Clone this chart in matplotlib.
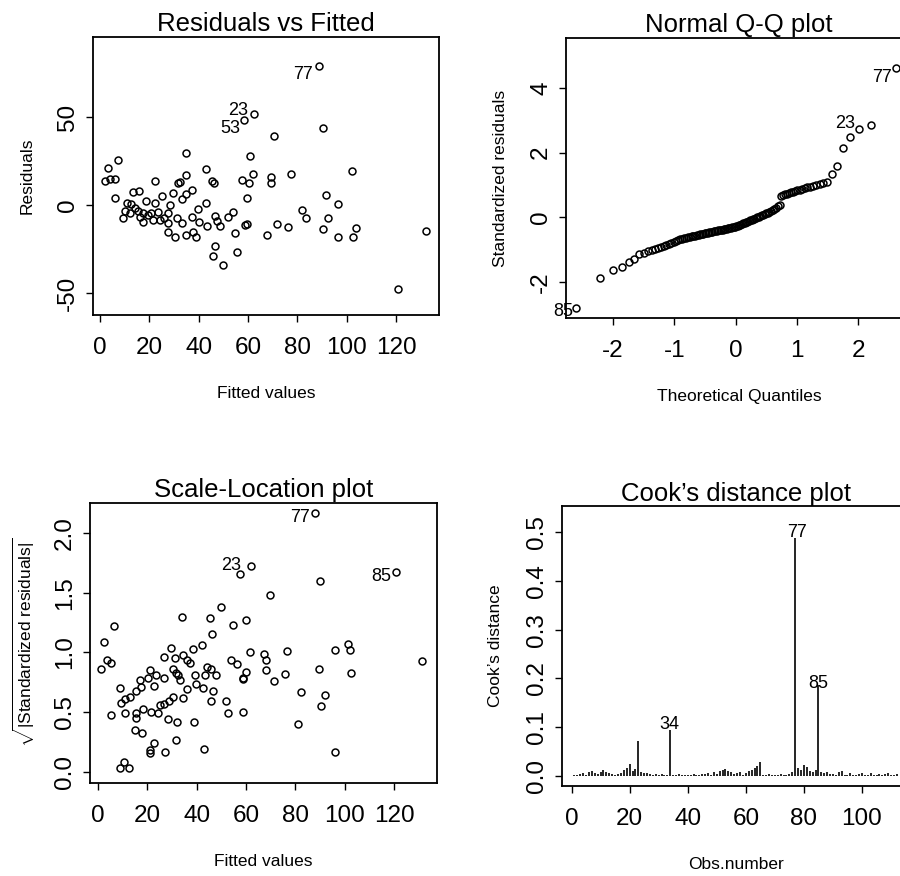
import statistics
import numpy as np
import matplotlib.pyplot as plt

plt.rcParams['font.family'] = ['Liberation Sans', 'DejaVu Sans']
plt.rcParams['mathtext.fontset'] = 'custom'
plt.rcParams['mathtext.rm'] = 'Liberation Sans'
plt.rcParams['mathtext.it'] = 'Liberation Sans:italic'
plt.rcParams['axes.unicode_minus'] = False

# Residuals vs Fitted (labelled points first: 77, 23, 53)
rf_fitted = [88.9, 62.6, 58.5,
             90.5, 70.4, 34.9, 60.8, 7.4, 3.4, 43.0, 102.2, 62.2, 77.3, 35.1, 57.4, 60.5, 69.2, 69.2,
             4.1, 6.1, 2.2, 22.3, 31.8, 32.6, 45.3, 46.2, 6.1, 13.5, 15.8, 18.6, 25.3, 29.7, 37.2,
             34.9, 33.1, 43.2, 59.5, 91.5, 96.6, 81.8, 83.5, 92.6, 90.5, 103.8, 102.4, 96.6, 76.4,
             71.8, 67.8, 59.5, 59.0, 54.7, 53.8, 52.0, 55.4, 50.0, 46.6, 45.9, 48.6, 47.3, 46.6,
             43.6, 40.3, 39.9, 38.9, 37.8, 37.2, 35.1, 33.1, 31.1, 30.4, 27.7, 27.7, 27.7, 28.4,
             24.3, 23.6, 22.3, 21.6, 20.9, 17.6, 17.3, 15.5, 14.2, 12.8, 10.8, 10.1, 9.5, 12.2,
             16.2, 19.6, 26.1, 132.2, 120.9]
rf_resid = [78.9, 51.7, 48.1,
            43.8, 39.4, 29.8, 27.9, 25.8, 21.3, 20.2, 19.4, 17.9, 17.5, 17.0, 14.2, 12.6, 15.7, 12.3,
            14.7, 14.7, 13.6, 13.6, 12.6, 13.0, 13.6, 12.6, 4.2, 7.5, 7.9, 2.3, 5.1, 7.0, 8.5,
            6.0, 3.2, 0.9, 4.2, 5.7, 0.4, -2.8, -7.5, -7.5, -13.8, -12.8, -18.3, -18.3, -12.3,
            -10.8, -17.2, -10.9, -11.3, -15.7, -3.8, -6.6, -26.8, -34.0, -23.2, -29.2, -11.7, -8.9, -6.2,
            -11.9, -9.4, -2.5, -18.3, -15.1, -7.0, -17.0, -10.4, -7.5, -18.3, -15.1, -10.4, -4.7, 0.0,
            -8.5, -3.8, 0.9, -8.5, -4.7, -9.4, -4.7, -3.2, -1.9, 0.6, 0.9, -3.4, -7.5, -4.7,
            -7.0, -5.7, -7.5, -14.5, -47.5]
rf_labels = ["77", "23", "53"]

# Normal Q-Q: sorted standardized residuals (labels: 85 lowest, 23, 77 highest)
qq_resid = [-2.82, -1.89, -1.63, -1.53, -1.40, -1.28, -1.14,
            -1.10, -1.06, -1.02, -0.99, -0.96, -0.92, -0.89, -0.86, -0.83, -0.80, -0.76, -0.73,
            -0.70, -0.68, -0.66, -0.64, -0.63, -0.62, -0.61, -0.59, -0.58, -0.57, -0.56, -0.55,
            -0.53, -0.52, -0.51, -0.50,
            -0.49, -0.48, -0.47, -0.46, -0.45, -0.44, -0.43, -0.42, -0.41, -0.40, -0.39, -0.38,
            -0.37, -0.36, -0.35, -0.34, -0.33, -0.32, -0.31, -0.30, -0.29, -0.28,
            -0.26, -0.24, -0.23, -0.21, -0.19, -0.18, -0.16, -0.14, -0.12, -0.10, -0.08, -0.06,
            -0.04, -0.02, 0.00, 0.02, 0.04, 0.06, 0.08, 0.10, 0.12, 0.14,
            0.17, 0.20, 0.23, 0.27, 0.30, 0.34, 0.38,
            0.66,
            0.69, 0.71, 0.73, 0.75, 0.77, 0.79, 0.81, 0.83, 0.85, 0.88, 0.90, 0.93, 0.95, 0.98,
            1.01, 1.04, 1.07, 1.10,
            1.35, 1.60, 2.15, 2.48, 2.73, 2.86,
            4.62]
qq_label_idx = [111, 110, 0]
qq_labels = ["77", "23", "85"]

# Scale-Location (labelled points first: 77, 23, 85)
sl_fitted = [87.8, 61.9, 120.7,
             57.4, 89.9, 69.9, 49.7, 34.2, 45.3, 60.1, 54.7, 6.5, 46.4, 2.4, 29.7, 101.4, 102.0,
             95.9, 38.5, 42.3, 76.6, 61.5, 67.3, 34.5, 26.8, 31.1, 68.2, 54.1, 36.1, 131.5, 3.6,
             5.4, 37.2, 56.4, 1.4, 89.6, 44.3, 30.4, 68.2, 60.1, 20.9, 31.8, 102.6, 45.7, 32.4,
             43.2, 39.2, 47.9, 75.7, 23.6, 20.3, 26.8, 58.6, 58.9, 16.9, 33.1, 71.2, 39.6, 22.7,
             17.6, 42.6, 9.1, 46.6, 36.2, 15.2, 82.4, 91.9, 12.8, 30.4, 34.5, 10.8, 45.7, 51.8,
             9.5, 26.8, 28.8, 25.0, 90.5, 18.2, 21.6, 15.5, 24.3, 52.8, 58.8, 10.8, 5.1, 15.5,
             28.4, 32.2, 38.9, 81.1, 14.9, 18.0, 31.8, 22.7, 95.9, 42.8, 27.3, 20.9, 21.2, 10.4,
             9.1, 12.6]
sl_sqrt_std = [2.17, 1.72, 1.67,
               1.66, 1.60, 1.48, 1.38, 1.30, 1.29, 1.27, 1.23, 1.22, 1.15, 1.09, 1.04, 1.07, 1.02,
               1.02, 1.03, 1.06, 1.01, 1.00, 0.99, 0.98, 0.96, 0.95, 0.94, 0.94, 0.94, 0.93, 0.94,
               0.91, 0.91, 0.90, 0.86, 0.86, 0.88, 0.86, 0.85, 0.84, 0.85, 0.83, 0.83, 0.86, 0.81,
               0.81, 0.81, 0.81, 0.82, 0.81, 0.79, 0.79, 0.79, 0.78, 0.77, 0.77, 0.76, 0.74, 0.72,
               0.71, 0.70, 0.70, 0.68, 0.69, 0.68, 0.67, 0.64, 0.63, 0.63, 0.62, 0.61, 0.59, 0.59,
               0.58, 0.57, 0.59, 0.56, 0.55, 0.53, 0.50, 0.49, 0.49, 0.49, 0.50, 0.49, 0.48, 0.45,
               0.44, 0.42, 0.42, 0.40, 0.35, 0.33, 0.27, 0.24, 0.17, 0.19, 0.17, 0.18, 0.16, 0.08,
               0.03, 0.03]
sl_labels = ["77", "23", "85"]

# Cook's distance, observations 1..112
cooks_d = [0.002, 0.003, 0.004, 0.006, 0.003, 0.008, 0.010, 0.007, 0.005, 0.009,
           0.012, 0.008, 0.006, 0.004, 0.003, 0.005, 0.007, 0.012, 0.016, 0.024,
           0.010, 0.014, 0.072, 0.009, 0.006, 0.007, 0.004, 0.003, 0.005, 0.002,
           0.004, 0.003, 0.002, 0.094, 0.003, 0.002, 0.004, 0.003, 0.002, 0.003,
           0.002, 0.004, 0.003, 0.002, 0.005, 0.004, 0.006, 0.003, 0.008, 0.005,
           0.010, 0.013, 0.015, 0.011, 0.009, 0.004, 0.006, 0.008, 0.003, 0.007,
           0.010, 0.012, 0.017, 0.021, 0.029, 0.003, 0.002, 0.004, 0.002, 0.003,
           0.002, 0.004, 0.003, 0.002, 0.005, 0.008, 0.488, 0.016, 0.013, 0.023,
           0.019, 0.010, 0.008, 0.012, 0.187, 0.009, 0.006, 0.008, 0.005, 0.004,
           0.003, 0.009, 0.011, 0.003, 0.002, 0.006, 0.003, 0.002, 0.005, 0.007,
           0.002, 0.003, 0.006, 0.002, 0.003, 0.005, 0.002, 0.004, 0.006, 0.003,
           0.002, 0.004]
cooks_labels = {77: "77", 85: "85", 34: "34"}

TITLE = 18.5
TICK = 17.5
LAB = 12.5
ANN = 13

fig = plt.figure(figsize=(9, 8.76), dpi=100)
ax_rf = fig.add_axes([0.1033, 0.6404, 0.3844, 0.3174])
ax_qq = fig.add_axes([0.6289, 0.6370, 0.3844, 0.3196])
ax_sl = fig.add_axes([0.1000, 0.1062, 0.3856, 0.3196])
ax_ck = fig.add_axes([0.6244, 0.1027, 0.3863, 0.3196])


def r_style(ax, title, xlab, ylab):
    for s in ax.spines.values():
        s.set_linewidth(1.3)
    ax.tick_params(axis='both', direction='out', length=5, width=1.0, labelsize=TICK)
    ax.tick_params(axis='x', pad=11)
    ax.tick_params(axis='y', pad=5)
    for t in ax.get_yticklabels():
        t.set_rotation(90)
        t.set_va('center')
    ax.set_title(title, fontsize=TITLE, pad=4)
    ax.set_xlabel(xlab, fontsize=LAB)
    ax.set_ylabel(ylab, fontsize=LAB)
    ax.xaxis.set_label_coords(0.5, -0.282)
    ax.xaxis.label.set_va('center')
    ax.yaxis.set_label_coords(-0.19, 0.5)
    ax.yaxis.label.set_va('center')


pt = dict(marker='o', ls='none', ms=5, mfc='none', mec='black', mew=1.1)

# Residuals vs Fitted
ax_rf.plot(rf_fitted, rf_resid, **pt)
rf_off = [(-4.3, -6), (-4.3, 2.7), (-3.1, -6)]
for i, lab in enumerate(rf_labels):
    ax_rf.annotate(lab, (rf_fitted[i], rf_resid[i]), xytext=rf_off[i], textcoords='offset points',
                   ha='right', va='center', fontsize=ANN)
ax_rf.set_xlim(-2.8, 137.4)
ax_rf.set_ylim(-62.5, 95.5)
ax_rf.set_xticks([0, 20, 40, 60, 80, 100, 120])
ax_rf.set_yticks([-50, 0, 50])
r_style(ax_rf, 'Residuals vs Fitted', 'Fitted values', 'Residuals')

# Normal Q-Q
n = len(qq_resid)
nd = statistics.NormalDist()
qq_theo = [nd.inv_cdf((i + 0.5) / n) for i in range(n)]
ax_qq.plot(qq_theo, qq_resid, **pt)
qq_off = [(-3.1, -6.5), (-11.5, 1.2), (-1.4, -2.2)]
for k, idx in enumerate(qq_label_idx):
    ax_qq.annotate(qq_labels[k], (qq_theo[idx], qq_resid[idx]), xytext=qq_off[k],
                   textcoords='offset points', ha='right', va='center', fontsize=ANN)
ax_qq.set_xlim(-2.77, 2.88)
ax_qq.set_ylim(-3.12, 5.55)
ax_qq.set_xticks([-2, -1, 0, 1, 2])
ax_qq.set_yticks([-2, 0, 2, 4])
r_style(ax_qq, 'Normal Q-Q plot', 'Theoretical Quantiles', 'Standardized residuals')

# Scale-Location
ax_sl.plot(sl_fitted, sl_sqrt_std, **pt)
sl_off = [(-3.6, -3.6), (-6.7, 0.5), (-3.1, -2.7)]
for i, lab in enumerate(sl_labels):
    ax_sl.annotate(lab, (sl_fitted[i], sl_sqrt_std[i]), xytext=sl_off[i], textcoords='offset points',
                   ha='right', va='center', fontsize=ANN)
ax_sl.set_xlim(-3.24, 137.4)
ax_sl.set_ylim(-0.092, 2.25)
ax_sl.set_xticks([0, 20, 40, 60, 80, 100, 120])
ax_sl.set_yticks([0.0, 0.5, 1.0, 1.5, 2.0])
ax_sl.set_yticklabels(['0.0', '0.5', '1.0', '1.5', '2.0'])
r_style(ax_sl, 'Scale-Location plot', 'Fitted values',
        r'$\sqrt{|\mathrm{Standardized\ residuals}|}$')

# Cook's distance
obs = np.arange(1, len(cooks_d) + 1)
ax_ck.vlines(obs, 0, cooks_d, colors='black', lw=1.2)
ck_off = {77: (1.2, 3.8), 85: (0, 1.2), 34: (-1, 3.8)}
for o, lab in cooks_labels.items():
    ax_ck.annotate(lab, (o, cooks_d[o - 1]), xytext=ck_off[o], textcoords='offset points',
                   ha='center', va='center', fontsize=ANN)
ax_ck.set_xlim(-3.3, 116.4)
ax_ck.set_ylim(-0.0205, 0.553)
ax_ck.set_xticks([0, 20, 40, 60, 80, 100])
ax_ck.set_yticks([0.0, 0.1, 0.2, 0.3, 0.4, 0.5])
ax_ck.set_yticklabels(['0.0', '0.1', '0.2', '0.3', '0.4', '0.5'])
r_style(ax_ck, 'Cook\u2019s distance plot', 'Obs.number', 'Cook\u2019s distance')

fig.savefig('out.png', dpi=100)
